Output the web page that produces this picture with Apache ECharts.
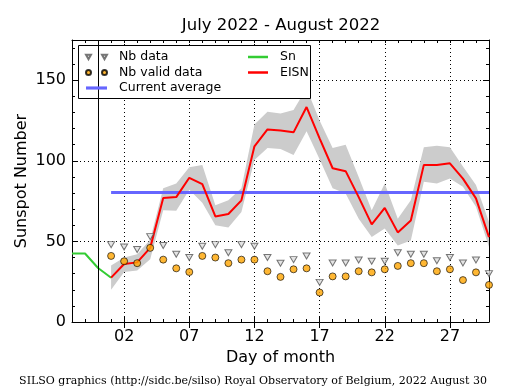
<!DOCTYPE html>
<html>
<head>
<meta charset="utf-8">
<script src="https://cdn.jsdelivr.net/npm/echarts@6/dist/echarts.min.js"></script>
<style>
html,body{margin:0;padding:0;background:#fff;}
#chart{width:515px;height:390px;}
</style>
</head>
<body>
<div id="chart"></div>
<script>
// x axis categories: days relative to 1 August (-2 .. 30)
const days = ['-2','-1','00','01','02','03','04','05','06','07','08','09','10','11','12','13','14','15','16','17','18','19','20','21','22','23','24','25','26','27','28','29','30'];
const dayTickLabels = ['02','07','12','17','22','27'];
const yTickValues = [0, 50, 100, 150];

// Sn (end of previous month), days -2..1
const snDays = ['-2','-1','00','01'];
const snValues = [42.5, 42.5, 33.5, 27.5];

// August data, days 1..30
const augDays = ['01','02','03','04','05','06','07','08','09','10','11','12','13','14','15','16','17','18','19','20','21','22','23','24','25','26','27','28','29','30'];
const eisnValues = [27.5,36,37,46,77,77.5,89.5,85.5,65.5,67,75.5,109,119.5,118.8,117.7,133.4,114,95.4,93.6,77.5,60.6,70.8,55.6,63,97.5,97.5,98.5,89,76.7,52.7];
const eisnLow  = [20,31,32,39,69.4,69,82,74,60,58.7,68.3,100.6,108,107.3,103.7,118.3,101,83,79.8,64,52.7,58,47.5,50.6,87,86,89,84,71.5,46.5];
const eisnHigh = [35,40,42,51,83,86,96,97.5,72.5,75.6,83,122.5,130.4,129.4,131.5,145,125,108,110,90,69.4,86,64,75.6,108.5,109.4,108.5,96.5,85,62];
const nbData  = [48,46.5,45,53,47.5,42,40,47,48,43,48,47,40,36.5,38.7,41,24.6,36.6,36.6,38.5,37.7,37.7,43,42,42,38,40,36.6,38.5,30];
const nbValid = [41,37.7,36.5,46,38.7,33.3,31,41,40,36.5,38.7,38.7,31.5,28,32.7,33.3,18.3,28.3,28.3,31.5,30.8,32.7,34.8,36.5,36.5,31.5,32.7,26,30.8,23];
const currentAverage = 80.4;
const avgDays = ['01','30'];
const monthStartDay = '00';

const titleText = 'July 2022 - August 2022';
const footerText = 'SILSO graphics (http://sidc.be/silso) Royal Observatory of Belgium, 2022 August 30';

const FONT = '"DejaVu Sans", sans-serif';
const pair = (xs, ys) => xs.map((x, i) => [x, ys[i]]);
const isMajor = (idx, val) => dayTickLabels.indexOf(val) >= 0;

const grid = {left: 72, right: 26, top: 40, bottom: 68};
const dotted = {color: '#000', type: [1, 3], width: 1};

const xBase = {type: 'category', data: days, boundaryGap: false, gridIndex: 0};
const xAxes = [
  Object.assign({}, xBase, {
    position: 'bottom',
    axisLine: {show: true, onZero: false, lineStyle: {color: '#000', width: 1}},
    axisTick: {show: true, inside: true, length: 3, interval: 0, lineStyle: {color: '#000'}},
    axisLabel: {show: true, interval: isMajor, color: '#000', fontSize: 16, fontFamily: FONT, margin: 7},
    splitLine: {show: true, interval: isMajor, lineStyle: dotted},
    name: 'Day of month', nameLocation: 'middle', nameGap: 28, nameMoveOverlap: false,
    nameTextStyle: {color: '#000', fontSize: 16, fontFamily: FONT}
  }),
  Object.assign({}, xBase, {
    position: 'bottom',
    axisLine: {show: false},
    axisTick: {show: true, inside: true, length: 6, interval: isMajor, lineStyle: {color: '#000'}},
    axisLabel: {show: false}, splitLine: {show: false}
  }),
  Object.assign({}, xBase, {
    position: 'top',
    axisLine: {show: true, onZero: false, lineStyle: {color: '#000', width: 1}},
    axisTick: {show: true, inside: true, length: 3, interval: 0, lineStyle: {color: '#000'}},
    axisLabel: {show: false}, splitLine: {show: false}
  }),
  Object.assign({}, xBase, {
    position: 'top',
    axisLine: {show: false},
    axisTick: {show: true, inside: true, length: 6, interval: isMajor, lineStyle: {color: '#000'}},
    axisLabel: {show: false}, splitLine: {show: false}
  })
];

const yBase = {type: 'value', min: 0, max: 175, gridIndex: 0};
const yAxes = [
  Object.assign({}, yBase, {
    position: 'left', interval: 50,
    axisLine: {show: true, onZero: false, lineStyle: {color: '#000', width: 1}},
    axisTick: {show: true, inside: true, length: 6, lineStyle: {color: '#000'}},
    axisLabel: {show: true, color: '#000', fontSize: 16, fontFamily: FONT, margin: 6,
      showMaxLabel: false,
      formatter: v => (yTickValues.indexOf(v) >= 0 ? String(v) : '')},
    splitLine: {show: true, lineStyle: dotted},
    name: 'Sunspot Number', nameLocation: 'middle', nameGap: 42, nameMoveOverlap: false,
    nameTextStyle: {color: '#000', fontSize: 16, fontFamily: FONT}
  }),
  Object.assign({}, yBase, {
    position: 'left', interval: 10,
    axisLine: {show: false},
    axisTick: {show: true, inside: true, length: 3, lineStyle: {color: '#000'}},
    axisLabel: {show: false}, splitLine: {show: false}
  }),
  Object.assign({}, yBase, {
    position: 'right', interval: 50,
    axisLine: {show: true, onZero: false, lineStyle: {color: '#000', width: 1}},
    axisTick: {show: true, inside: true, length: 6, lineStyle: {color: '#000'}},
    axisLabel: {show: false}, splitLine: {show: false}
  }),
  Object.assign({}, yBase, {
    position: 'right', interval: 10,
    axisLine: {show: false},
    axisTick: {show: true, inside: true, length: 3, lineStyle: {color: '#000'}},
    axisLabel: {show: false}, splitLine: {show: false}
  })
];

const triIcon = 'path://M0,0L5,0L2.5,4.5Z M16,0L21,0L18.5,4.5Z';
const dotIcon = 'path://M2.5,0A2.5,2.5 0 1,1 2.5,5A2.5,2.5 0 1,1 2.5,0Z M18.5,0A2.5,2.5 0 1,1 18.5,5A2.5,2.5 0 1,1 18.5,0Z';
const lineIcon = 'path://M0,0L20,0L20,2.5L0,2.5Z';
const avgIcon = 'path://M0,0L20,0L20,3L0,3Z';

const option = {
  animation: false,
  backgroundColor: '#fff',
  grid: grid,
  xAxis: xAxes,
  yAxis: yAxes,
  legend: [
    {
      left: 85, top: 50, orient: 'vertical', padding: 0, itemGap: 1.5,
      itemWidth: 21, itemHeight: 6, selectedMode: false, z: 10,
      textStyle: {color: '#000', fontSize: 12.5, fontFamily: FONT, padding: [0, 0, 0, 7], lineHeight: 14},
      data: [
        {name: 'Nb data', icon: triIcon},
        {name: 'Nb valid data', icon: dotIcon},
        {name: 'Current average', icon: avgIcon}
      ]
    },
    {
      left: 248, top: 50, orient: 'vertical', padding: 0, itemGap: 1.5,
      itemWidth: 20, itemHeight: 6, selectedMode: false, z: 10,
      textStyle: {color: '#000', fontSize: 12.5, fontFamily: FONT, padding: [0, 0, 0, 7], lineHeight: 14},
      data: [{name: 'Sn', icon: lineIcon}, {name: 'EISN', icon: lineIcon}]
    }
  ],
  graphic: [
    {type: 'rect', z: 5, shape: {x: 78.5, y: 45.5, width: 232, height: 53},
      style: {fill: '#fff', stroke: '#000', lineWidth: 1}},
    {type: 'text', z: 5, x: 281, y: 26,
      style: {text: titleText, font: '16.5px "DejaVu Sans"', fill: '#000', align: 'center', verticalAlign: 'middle'}},
    {type: 'text', z: 5, x: 253, y: 381,
      style: {text: footerText, font: '11px "DejaVu Serif"', fill: '#000', align: 'center', verticalAlign: 'middle'}}
  ],
  series: [
    {
      name: 'bandLow', type: 'line', stack: 'band', data: pair(augDays, eisnLow),
      symbol: 'none', lineStyle: {opacity: 0}, silent: true, z: 1
    },
    {
      name: 'bandSpan', type: 'line', stack: 'band',
      data: pair(augDays, eisnHigh.map((h, i) => h - eisnLow[i])),
      symbol: 'none', lineStyle: {opacity: 0}, areaStyle: {color: '#cccccc', opacity: 1}, silent: true, z: 1
    },
    {
      name: 'Current average', type: 'line', data: pair(avgDays, [currentAverage, currentAverage]),
      symbol: 'none', color: '#6666ff', itemStyle: {color: '#6666ff'}, lineStyle: {color: '#6666ff', width: 3}, z: 2
    },
    {
      name: 'Sn', type: 'line', data: pair(snDays, snValues),
      symbol: 'none', color: '#33cc33', itemStyle: {color: '#33cc33'}, lineStyle: {color: '#33cc33', width: 2}, z: 2,
      markLine: {
        silent: true, symbol: 'none', label: {show: false},
        lineStyle: {color: '#000', width: 1, type: 'solid'},
        data: [{xAxis: monthStartDay}]
      }
    },
    {
      name: 'EISN', type: 'line', data: pair(augDays, eisnValues),
      symbol: 'none', color: '#ff0000', itemStyle: {color: '#ff0000'}, lineStyle: {color: '#ff0000', width: 2}, z: 3
    },
    {
      name: 'Nb data', type: 'scatter', data: pair(augDays, nbData),
      symbol: 'triangle', symbolRotate: 180, symbolSize: [7, 6],
      itemStyle: {color: '#dddddd', borderColor: '#555555', borderWidth: 1}, z: 4
    },
    {
      name: 'Nb valid data', type: 'scatter', data: pair(augDays, nbValid),
      symbol: 'circle', symbolSize: 7,
      itemStyle: {color: '#ffa500', borderColor: '#000', borderWidth: 0.8}, z: 4
    }
  ]
};

const chart = echarts.init(document.getElementById('chart'), null, {renderer: 'canvas', width: 515, height: 390});
chart.setOption(option);
</script>
</body>
</html>
